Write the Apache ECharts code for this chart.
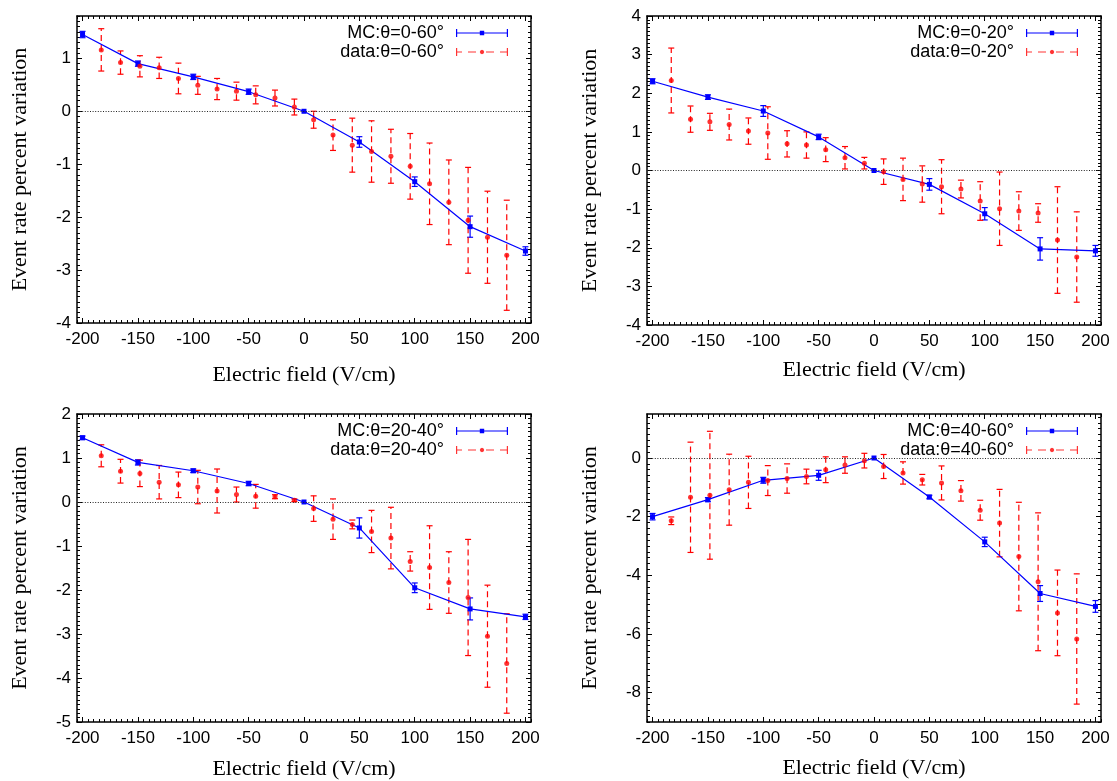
<!DOCTYPE html>
<html><head><meta charset="utf-8">
<script src="https://cdn.jsdelivr.net/npm/echarts@6/dist/echarts.min.js"></script>
<style>html,body{margin:0;padding:0;background:#fff}#c{width:1117px;height:781px}</style>
</head><body><div id="c"></div>
<script>
// ---------------- data ----------------
const mcField = [-200, -150, -100, -50, 0, 50, 100, 150, 200];
const dataField = [-183.1, -165.7, -148.2, -130.8, -113.4, -95.9, -78.5, -61.0, -43.6, -26.2, -8.7,
                   8.7, 26.2, 43.6, 61.0, 78.5, 95.9, 113.4, 130.8, 148.2, 165.7, 183.1];

// panel 1: theta 0-60
const mc060 = [1.45, 0.90, 0.65, 0.37, 0, -0.58, -1.33, -2.18, -2.64];
const mc060Err = [0.06, 0.05, 0.05, 0.05, 0, 0.10, 0.09, 0.20, 0.08];
const data060 = [1.16, 0.92, 0.85, 0.82, 0.62, 0.49, 0.42, 0.38, 0.31, 0.25, 0.08,
                 -0.16, -0.45, -0.64, -0.76, -0.85, -1.04, -1.37, -1.72, -2.06, -2.38, -2.72];
const data060Err = [0.40, 0.22, 0.20, 0.20, 0.29, 0.17, 0.20, 0.17, 0.17, 0.15, 0.15,
                    0.16, 0.29, 0.51, 0.58, 0.51, 0.62, 0.77, 0.80, 1.00, 0.87, 1.04];

// panel 2: theta 0-20
const mc020 = [2.31, 1.90, 1.54, 0.87, 0, -0.36, -1.12, -2.03, -2.08];
const mc020Err = [0.065, 0.06, 0.14, 0.07, 0, 0.15, 0.16, 0.29, 0.14];
const data020 = [2.33, 1.33, 1.26, 1.19, 1.02, 0.97, 0.69, 0.66, 0.54, 0.33, 0.19,
                 -0.03, -0.23, -0.35, -0.42, -0.48, -0.79, -0.99, -1.05, -1.10, -1.80, -2.24];
const data020Err = [0.84, 0.34, 0.22, 0.40, 0.34, 0.68, 0.34, 0.34, 0.31, 0.29, 0.15,
                    0.33, 0.55, 0.47, 0.70, 0.23, 0.50, 0.95, 0.50, 0.24, 1.38, 1.17];

// panel 3: theta 20-40
const mc2040 = [1.46, 0.90, 0.71, 0.42, 0, -0.59, -1.95, -2.43, -2.61];
const mc2040Err = [0.04, 0.06, 0.04, 0.05, 0, 0.23, 0.11, 0.25, 0.06];
const data2040 = [1.05, 0.70, 0.65, 0.45, 0.39, 0.34, 0.25, 0.17, 0.13, 0.12, 0.04,
                  -0.15, -0.39, -0.51, -0.67, -0.82, -1.35, -1.49, -1.83, -2.17, -3.05, -3.67];
const data2040Err = [0.25, 0.27, 0.30, 0.38, 0.29, 0.38, 0.50, 0.17, 0.27, 0.045, 0.03,
                     0.29, 0.46, 0.10, 0.48, 0.70, 0.22, 0.95, 0.70, 1.32, 1.16, 1.13];

// panel 4: theta 40-60
const mc4060 = [-2.00, -1.42, -0.76, -0.59, 0, -1.33, -2.86, -4.62, -5.06];
const mc4060Err = [0.11, 0.07, 0.10, 0.17, 0, 0.06, 0.16, 0.27, 0.20];
const data4060 = [-2.14, -1.34, -1.27, -1.08, -0.83, -0.77, -0.70, -0.63, -0.40, -0.24, -0.09,
                  -0.29, -0.51, -0.74, -0.85, -1.12, -1.78, -2.22, -3.36, -4.22, -5.28, -6.17];
const data4060Err = [0.13, 1.88, 2.18, 1.21, 0.89, 0.51, 0.50, 0.25, 0.44, 0.28, 0.25,
                     0.41, 0.38, 0.18, 0.58, 0.35, 0.34, 1.15, 1.85, 2.35, 1.46, 2.22];

// tick labels
const xTicks = [-200, -150, -100, -50, 0, 50, 100, 150, 200];
const yTicks1 = [-4, -3, -2, -1, 0, 1];
const yTicks2 = [-4, -3, -2, -1, 0, 1, 2, 3, 4];
const yTicks3 = [-5, -4, -3, -2, -1, 0, 1, 2];
const yTicks4 = [-8, -6, -4, -2, 0];

const mcNames = ['MC:θ=0-60°', 'MC:θ=0-20°', 'MC:θ=20-40°', 'MC:θ=40-60°'];
const dataNames = ['data:θ=0-60°', 'data:θ=0-20°', 'data:θ=20-40°', 'data:θ=40-60°'];
const xName = 'Electric field (V/cm)';
const yName = 'Event rate percent variation';

// ---------------- chart ----------------
const BLUE = '#0000ff', RED = '#ff0000';
const SANS = 'Liberation Sans, Arial, Helvetica, sans-serif';
const SERIF = 'Liberation Serif, Times New Roman, serif';

const panels = [
  {grid: {left: 77, top: 16, width: 454, height: 307}, y: [-4, 1.8], yt: yTicks1, ym: 0.1, xGap: 41,
   mc: mc060, mcE: mc060Err, d: data060, dE: data060Err, legend: {right: 604, top: 19}},
  {grid: {left: 647, top: 16, width: 454, height: 309}, y: [-4, 4], yt: yTicks2, ym: 0.1, xGap: 34,
   mc: mc020, mcE: mc020Err, d: data020, dE: data020Err, legend: {right: 34, top: 19}},
  {grid: {left: 77, top: 414, width: 454, height: 308}, y: [-5, 2], yt: yTicks3, ym: 0.1, xGap: 36,
   mc: mc2040, mcE: mc2040Err, d: data2040, dE: data2040Err, legend: {right: 604, top: 417}},
  {grid: {left: 647, top: 414, width: 454, height: 308}, y: [-9, 1.5], yt: yTicks4, ym: 0.2, xGap: 35,
   mc: mc4060, mcE: mc4060Err, d: data4060, dE: data4060Err, legend: {right: 34, top: 417}}
];

function minorList(min, max, step) {
  const out = [];
  for (let k = Math.ceil(min / step - 1e-9); k * step <= max + 1e-9; k++) out.push(+(k * step).toFixed(4));
  return out;
}

function axisSet(gi, dim, min, max, major, step, name, gap) {
  const pos = dim === 'x' ? ['bottom', 'top'] : ['left', 'right'];
  const line = {show: true, onZero: false, lineStyle: {color: '#000', width: 1.5}};
  const tickStyle = {color: '#000', width: 1};
  const minor = minorList(min, max, step);
  const base = {gridIndex: gi, type: 'value', min, max, splitLine: {show: false}, silent: true};
  return [
    Object.assign({}, base, {
      position: pos[0], axisLine: line,
      axisTick: {show: true, inside: true, length: 5, customValues: major, lineStyle: tickStyle},
      axisLabel: {show: true, customValues: major, margin: dim === 'x' ? 8 : 6,
                  fontFamily: SANS, fontSize: 17, color: '#000'},
      name, nameLocation: 'middle', nameGap: gap,
      nameTextStyle: {fontFamily: SERIF, fontSize: 22, color: '#000'}
    }),
    Object.assign({}, base, {
      position: pos[1], axisLine: line,
      axisTick: {show: true, inside: true, length: 5, customValues: major, lineStyle: tickStyle},
      axisLabel: {show: false}
    }),
    Object.assign({}, base, {
      position: pos[0], axisLine: {show: false, onZero: false},
      axisTick: {show: true, inside: true, length: 3, customValues: minor, lineStyle: tickStyle},
      axisLabel: {show: false}
    }),
    Object.assign({}, base, {
      position: pos[1], axisLine: {show: false, onZero: false},
      axisTick: {show: true, inside: true, length: 3, customValues: minor, lineStyle: tickStyle},
      axisLabel: {show: false}
    })
  ];
}

function errSeries(xs, ys, es, color, dashed, xi, yi) {
  const rows = xs.map((x, i) => [x, ys[i] - es[i], ys[i] + es[i]]);
  return {
    type: 'custom', xAxisIndex: xi, yAxisIndex: yi, data: rows, silent: true, z: 2,
    encode: {x: 0, y: [1, 2]},
    renderItem(params, api) {
      const x = api.value(0), lo = api.value(1), hi = api.value(2);
      if (hi - lo < 1e-9) return null;
      const p1 = api.coord([x, lo]), p2 = api.coord([x, hi]);
      const w = 3;
      const st = {stroke: color, lineWidth: 1.2, lineDash: dashed ? [6, 4] : null};
      const cap = {stroke: color, lineWidth: 1.2};
      return {type: 'group', children: [
        {type: 'line', shape: {x1: p1[0], y1: p1[1], x2: p2[0], y2: p2[1]}, style: st},
        {type: 'line', shape: {x1: p1[0] - w, y1: p1[1], x2: p1[0] + w, y2: p1[1]}, style: cap},
        {type: 'line', shape: {x1: p2[0] - w, y1: p2[1], x2: p2[0] + w, y2: p2[1]}, style: cap}
      ]};
    }
  };
}

const MC_ICON = 'path://M0 3.4L52 3.4L52 4.6L0 4.6Z M0 0L1.2 0L1.2 8L0 8Z M50.8 0L52 0L52 8L50.8 8Z M23.8 1.8L28.2 1.8L28.2 6.2L23.8 6.2Z';
const DATA_ICON = 'path://M0 0L1.2 0L1.2 8L0 8Z M0 3.4L6 3.4L6 4.6L0 4.6Z M12 3.4L20 3.4L20 4.6L12 4.6Z ' +
  'M28.2 4L27.56 5.56L26 6.2L24.44 5.56L23.8 4L24.44 2.44L26 1.8L27.56 2.44Z ' +
  'M30 3.4L38 3.4L38 4.6L30 4.6Z M44 3.4L52 3.4L52 4.6L44 4.6Z M50.8 0L52 0L52 8L50.8 8Z';

const grids = [], xAxes = [], yAxes = [], series = [], legends = [];
panels.forEach((p, gi) => {
  grids.push(p.grid);
  xAxes.push(...axisSet(gi, 'x', -205, 205, xTicks, 5, xName, p.xGap));
  yAxes.push(...axisSet(gi, 'y', p.y[0], p.y[1], p.yt, p.ym, yName, 46));
  const xi = gi * 4, yi = gi * 4;
  series.push({
    name: mcNames[gi], type: 'line', xAxisIndex: xi, yAxisIndex: yi, z: 3,
    data: mcField.map((x, i) => [x, p.mc[i]]),
    symbol: 'rect', symbolSize: 5, showSymbol: true,
    lineStyle: {color: BLUE, width: 1.2}, itemStyle: {color: BLUE},
    markLine: {silent: true, symbol: 'none', label: {show: false}, animation: false,
               lineStyle: {color: '#222', type: [1, 1.6], width: 1}, data: [{yAxis: 0}]}
  });
  series.push(errSeries(mcField, p.mc, p.mcE, BLUE, false, xi, yi));
  series.push({
    name: dataNames[gi], type: 'scatter', xAxisIndex: xi, yAxisIndex: yi, z: 3,
    data: dataField.map((x, i) => [x, p.d[i]]),
    symbol: 'circle', symbolSize: 5, itemStyle: {color: RED}
  });
  series.push(errSeries(dataField, p.d, p.dE, RED, true, xi, yi));
  legends.push({
    orient: 'vertical', right: p.legend.right, top: p.legend.top, align: 'right',
    itemWidth: 52, itemHeight: 8, itemGap: 1, selectedMode: false,
    itemStyle: {borderWidth: 0},
    textStyle: {fontFamily: SANS, fontSize: 18, color: '#000', padding: [0, 7, 0, 0]},
    data: [{name: mcNames[gi], icon: MC_ICON}, {name: dataNames[gi], icon: DATA_ICON}]
  });
});

const chart = echarts.init(document.getElementById('c'), null, {renderer: 'canvas'});
chart.setOption({
  animation: false,
  backgroundColor: '#fff',
  grid: grids, xAxis: xAxes, yAxis: yAxes, series, legend: legends
});
</script>
</body></html>
